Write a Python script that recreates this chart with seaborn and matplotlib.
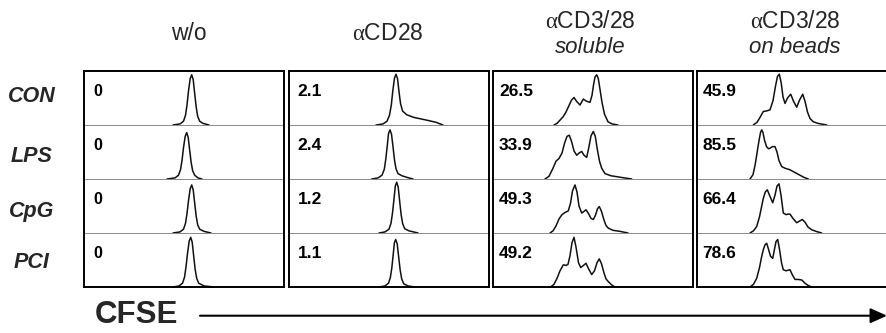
import matplotlib
matplotlib.use("Agg")
import matplotlib.pyplot as plt
from matplotlib.patches import FancyArrowPatch
import seaborn as sns
import pandas as pd

# ---------------- data ----------------
row_labels = ["CON", "LPS", "CpG", "PCI"]
header_main = ["w/o", r"$\mathrm{\alpha}$CD28", r"$\mathrm{\alpha}$CD3/28", r"$\mathrm{\alpha}$CD3/28"]
header_sub = ["", "", "soluble", "on beads"]
# % divided cells, row by row (CON, LPS, CpG, PCI), column by column
pct_wo = ["0", "0", "0", "0"]
pct_cd28 = ["2.1", "2.4", "1.2", "1.1"]
pct_sol = ["26.5", "33.9", "49.3", "49.2"]
pct_beads = ["45.9", "85.5", "66.4", "78.6"]

# CFSE histograms: x = CFSE channel (0-200 across panel), y = relative count (0-1)
wo_x = [
    [89, 96, 99.5, 101.5, 103, 104.5, 106.2, 107.7, 109.2, 110.7, 112.2, 113.7, 115.7, 119, 125],
    [83, 91, 94.5, 96.5, 98, 99.5, 101.2, 102.7, 104.2, 105.7, 107.2, 108.7, 110.7, 114, 118],
    [89, 96, 99.5, 101.5, 103, 104.5, 106.2, 107.7, 109.2, 110.7, 112.2, 113.7, 115.7, 120, 127],
    [89, 95, 98.5, 100.5, 102, 103.5, 105.2, 106.7, 108.2, 109.7, 111.2, 112.7, 114.7, 120, 130],
]
wo_y = [
    [0, 0.02, 0.07, 0.18, 0.37, 0.63, 0.86, 0.93, 0.84, 0.58, 0.33, 0.16, 0.07, 0.03, 0],
    [0, 0.02, 0.07, 0.17, 0.34, 0.58, 0.79, 0.86, 0.77, 0.53, 0.30, 0.15, 0.07, 0.02, 0],
    [0, 0.02, 0.07, 0.18, 0.36, 0.60, 0.82, 0.89, 0.80, 0.55, 0.31, 0.15, 0.07, 0.03, 0],
    [0, 0.02, 0.07, 0.18, 0.37, 0.62, 0.85, 0.92, 0.83, 0.57, 0.32, 0.16, 0.07, 0.02, 0],
]
cd28_x = [
    [87, 94, 98, 100.5, 102.3, 103.8, 105.5, 107, 108.5, 110, 111.5, 113.5, 117.7, 125, 137.7, 147, 154],
    [82.7, 89, 93, 95.3, 96.8, 98.3, 99.5, 101, 102.5, 104, 105.5, 107, 109, 113, 118, 124],
    [90, 96, 100, 102, 103.5, 105, 106.3, 107.7, 109.2, 110.7, 112.2, 113.7, 115.7, 120, 129],
    [90, 96, 99.5, 101.3, 102.8, 104.2, 105.4, 106.7, 108.2, 109.7, 111.2, 112.7, 114.7, 119, 126],
]
cd28_y = [
    [0, 0.02, 0.07, 0.18, 0.37, 0.63, 0.87, 0.94, 0.86, 0.62, 0.40, 0.26, 0.19, 0.14, 0.09, 0.05, 0],
    [0, 0.02, 0.07, 0.18, 0.37, 0.62, 0.84, 0.91, 0.83, 0.60, 0.35, 0.19, 0.10, 0.06, 0.03, 0],
    [0, 0.02, 0.07, 0.18, 0.37, 0.63, 0.87, 0.94, 0.85, 0.58, 0.33, 0.17, 0.08, 0.04, 0],
    [0, 0.02, 0.07, 0.17, 0.35, 0.60, 0.82, 0.88, 0.80, 0.55, 0.31, 0.15, 0.06, 0.02, 0],
]
sol_x = [
    [61, 64, 67, 70, 73, 76, 78.5, 81, 83.5, 87, 90.3, 93.5, 97, 99, 100.5, 102, 103.7, 105.3, 107, 109, 111.5, 115, 119, 125],
    [52, 56, 60, 63, 66, 69, 71.5, 74, 76.3, 78.5, 81, 83.7, 86, 88.7, 91, 93.7, 96, 98, 100.3, 102.3, 104.3, 106.5, 108.7, 112, 118, 128, 138.7],
    [57, 60, 63, 66, 69, 72, 75.3, 77.5, 79.5, 82, 84, 86, 88.7, 91, 93, 95.5, 98, 100.3, 102.5, 104.5, 106.3, 108.5, 111, 113, 115.3, 120, 127, 135],
    [57.7, 61, 64, 67, 70.3, 73, 75, 77, 79, 81, 83, 85.5, 87.7, 90.5, 93, 95.5, 98.7, 101.5, 104, 106.3, 108.5, 111, 113, 115.3, 118.5, 122],
]
sol_y = [
    [0, 0.03, 0.09, 0.15, 0.24, 0.36, 0.46, 0.51, 0.44, 0.37, 0.48, 0.44, 0.42, 0.55, 0.74, 0.89, 0.93, 0.86, 0.66, 0.42, 0.20, 0.06, 0.02, 0],
    [0, 0.05, 0.20, 0.33, 0.38, 0.48, 0.66, 0.79, 0.81, 0.70, 0.52, 0.44, 0.48, 0.51, 0.44, 0.40, 0.60, 0.80, 0.88, 0.79, 0.55, 0.33, 0.20, 0.10, 0.06, 0.03, 0],
    [0, 0.04, 0.13, 0.26, 0.34, 0.38, 0.41, 0.55, 0.78, 0.89, 0.76, 0.50, 0.37, 0.40, 0.43, 0.36, 0.27, 0.25, 0.33, 0.45, 0.49, 0.40, 0.24, 0.14, 0.09, 0.05, 0.03, 0],
    [0, 0.05, 0.16, 0.30, 0.41, 0.40, 0.42, 0.58, 0.82, 0.92, 0.74, 0.45, 0.36, 0.40, 0.44, 0.34, 0.23, 0.30, 0.45, 0.52, 0.43, 0.26, 0.15, 0.10, 0.04, 0],
]
beads_x = [
    [56.3, 60, 63, 66.3, 69.5, 73, 76, 78.5, 80.5, 82.3, 84.2, 86, 88, 90.5, 93.7, 96.5, 99.7, 102.5, 105.7, 108, 110.5, 113, 116.3, 121, 129.7],
    [53, 56, 58, 59.7, 61, 62.3, 63.5, 64.7, 66, 67.5, 69.5, 71.5, 73, 75.5, 78, 80, 82, 84.7, 88, 93, 98, 103, 107, 111.3],
    [53, 56.5, 59.7, 62.5, 64.5, 66.3, 68.3, 70.3, 72.5, 75.7, 78, 80, 82, 84, 86.3, 89, 91, 93, 96, 99.7, 102.5, 105.3, 108, 111, 114.7, 119, 124.7],
    [53, 56.5, 59.7, 62.5, 64.5, 66.3, 68, 69.7, 71.5, 73.5, 75.7, 77.5, 79, 80.7, 82.5, 84.5, 86.3, 89, 91, 93, 95.5, 98, 101, 104.7, 108, 111, 114.7],
]
beads_y = [
    [0, 0.05, 0.14, 0.25, 0.26, 0.28, 0.45, 0.72, 0.90, 0.94, 0.78, 0.52, 0.40, 0.50, 0.57, 0.44, 0.33, 0.46, 0.57, 0.44, 0.24, 0.12, 0.06, 0.03, 0],
    [0, 0.08, 0.25, 0.44, 0.60, 0.74, 0.86, 0.91, 0.86, 0.72, 0.60, 0.56, 0.57, 0.60, 0.60, 0.50, 0.34, 0.23, 0.20, 0.17, 0.12, 0.07, 0.03, 0],
    [0, 0.04, 0.12, 0.30, 0.48, 0.64, 0.76, 0.80, 0.70, 0.56, 0.70, 0.87, 0.91, 0.70, 0.37, 0.34, 0.35, 0.35, 0.27, 0.19, 0.22, 0.25, 0.20, 0.11, 0.06, 0.03, 0],
    [0, 0.05, 0.16, 0.36, 0.55, 0.69, 0.78, 0.81, 0.70, 0.57, 0.53, 0.70, 0.84, 0.88, 0.70, 0.45, 0.32, 0.30, 0.31, 0.32, 0.22, 0.14, 0.14, 0.13, 0.07, 0.03, 0],
]

cols_x = [wo_x, cd28_x, sol_x, beads_x]
cols_y = [wo_y, cd28_y, sol_y, beads_y]
cols_pct = [pct_wo, pct_cd28, pct_sol, pct_beads]

# ---------------- style ----------------
sns.set_theme(style="white")
plt.rcParams["font.family"] = ["Liberation Sans", "DejaVu Sans"]
plt.rcParams["mathtext.fontset"] = "custom"
plt.rcParams["mathtext.rm"] = "Liberation Serif"
plt.rcParams["mathtext.it"] = "Liberation Serif:italic"

W, H = 886, 333
fig = plt.figure(figsize=(W / 100, H / 100), dpi=100)
fig.patch.set_facecolor("white")

col_left = [84, 289, 493, 697]
col_w = 200
row_top = [71, 125, 179, 233]
row_h = 54


def fx(px):
    return px / W


def fy(py):
    return 1 - py / H


for c in range(4):
    for r in range(4):
        ax = fig.add_axes([fx(col_left[c]), fy(row_top[r] + row_h), col_w / W, row_h / H])
        df = pd.DataFrame({"x": cols_x[c][r], "y": cols_y[c][r]})
        sns.lineplot(data=df, x="x", y="y", ax=ax, color="#111111", lw=1.1,
                     estimator=None, sort=False, clip_on=False)
        ax.set_xlim(0, col_w)
        ax.set_ylim(0, 1)
        ax.set_xticks([])
        ax.set_yticks([])
        ax.set_xlabel("")
        ax.set_ylabel("")
        ax.set_facecolor("none")
        for s in ("left", "right"):
            ax.spines[s].set_visible(True)
            ax.spines[s].set_color("black")
            ax.spines[s].set_linewidth(1.4)
        ax.spines["top"].set_visible(r == 0)
        ax.spines["top"].set_color("black")
        ax.spines["top"].set_linewidth(1.4)
        ax.spines["bottom"].set_visible(True)
        if r == 3:
            ax.spines["bottom"].set_color("black")
            ax.spines["bottom"].set_linewidth(1.4)
        else:
            ax.spines["bottom"].set_color("#8a8a8a")
            ax.spines["bottom"].set_linewidth(0.7)
        # percentage label
        offs = [9, 8.5, 6, 5.5][c]
        fs = 11.5 if c == 0 else 12.5
        fig.text(fx(col_left[c] + offs), fy(row_top[r] + 21), cols_pct[c][r],
                 fontsize=fs, fontweight="bold", ha="left", va="center", color="black")

# column headers
hdr_x = [188.5, 387.5, 590, 795]
for c in range(4):
    if header_sub[c]:
        fig.text(fx(hdr_x[c]), fy(22), header_main[c], fontsize=16.5, ha="center", va="center")
        fig.text(fx(hdr_x[c]), fy(47.5), header_sub[c], fontsize=16, style="italic",
                 ha="center", va="center")
    else:
        fig.text(fx(hdr_x[c]), fy(34), header_main[c], fontsize=16.5, ha="center", va="center")

# row labels
lab_y = [97, 156, 211, 262.5]
for r in range(4):
    fig.text(fx(31.5), fy(lab_y[r]), row_labels[r], fontsize=15.5, fontweight="bold",
             style="italic", ha="center", va="center")

# CFSE axis label with arrow
fig.text(fx(95), fy(315), "CFSE", fontsize=22.5, fontweight="bold", ha="left", va="center")
arrow = FancyArrowPatch((fx(200), fy(315.7)), (fx(887), fy(315.7)),
                        transform=fig.transFigure,
                        arrowstyle="-|>,head_length=1.0,head_width=0.45",
                        mutation_scale=10, lw=1.5, color="black",
                        shrinkA=0, shrinkB=0)
fig.add_artist(arrow)

fig.savefig("out.png", dpi=100, facecolor="white")
